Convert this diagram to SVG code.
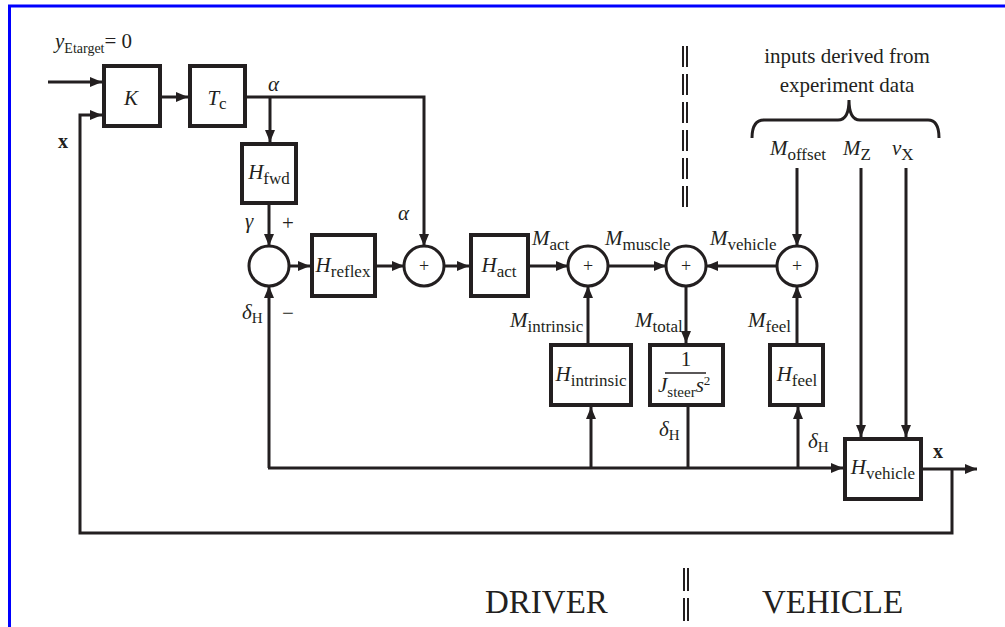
<svg xmlns="http://www.w3.org/2000/svg" width="1005" height="627" viewBox="0 0 1005 627">
<style>
.t{font-family:"Liberation Serif","Times New Roman",serif;fill:#231f20}
.i{font-style:italic;font-size:21px}
.r{font-size:21px}
.sb{font-size:17px;font-style:normal}
.ss{font-size:15px;font-style:normal}
.box{fill:#fff;stroke:#231f20;stroke-width:4}
.sum{fill:#fff;stroke:#231f20;stroke-width:3}
.ln{fill:none;stroke:#231f20;stroke-width:3}
.arr{fill:none;stroke:#231f20;stroke-width:3;marker-end:url(#ah)}
.pl{font-family:"Liberation Serif",serif;font-size:18px;fill:#231f20}
.dash{stroke:#231f20;stroke-width:2;stroke-dasharray:21 7}
</style>
<defs>
<marker id="ah" viewBox="0 0 12 10" refX="12" refY="5" markerWidth="12" markerHeight="10" markerUnits="userSpaceOnUse" orient="auto">
<path d="M0,0 L12,5 L0,10 z" fill="#231f20"/>
</marker>
</defs>
<rect width="1005" height="627" fill="#fff"/>
<path d="M9.5,627 V6 H1005" fill="none" stroke="#0000ff" stroke-width="3"/>

<g id="connectors">
<line class="arr" x1="48" y1="82" x2="102" y2="82"/>
<polyline class="arr" points="952,469 952,533 80,533 80,115 102,115"/>
<line class="arr" x1="162" y1="97" x2="188" y2="97"/>
<polyline class="arr" points="247,97 424,97 424,246"/>
<line class="arr" x1="270" y1="97" x2="270" y2="142"/>
<line class="arr" x1="269" y1="205" x2="269" y2="246"/>
<line class="arr" x1="289" y1="266" x2="310" y2="266"/>
<line class="arr" x1="377" y1="266" x2="404" y2="266"/>
<line class="arr" x1="444" y1="266" x2="469" y2="266"/>
<line class="arr" x1="530" y1="266" x2="568" y2="266"/>
<line class="arr" x1="608" y1="266" x2="666" y2="266"/>
<line class="arr" x1="777" y1="266" x2="706" y2="266"/>
<line class="arr" x1="797" y1="168" x2="797" y2="246"/>
<line class="arr" x1="588" y1="343" x2="588" y2="286"/>
<line class="arr" x1="686" y1="286" x2="686" y2="343"/>
<line class="arr" x1="797" y1="343" x2="797" y2="286"/>
<line class="ln" x1="688" y1="407" x2="688" y2="468"/>
<line class="arr" x1="591" y1="468" x2="591" y2="407"/>
<line class="arr" x1="798" y1="468" x2="798" y2="407"/>
<polyline class="arr" points="269,468 269,286"/>
<line class="arr" x1="268" y1="468" x2="843" y2="468"/>
<line class="arr" x1="861" y1="168" x2="861" y2="437"/>
<line class="arr" x1="906" y1="168" x2="906" y2="437"/>
<line class="arr" x1="923" y1="469" x2="977" y2="469"/>
</g>

<g id="divider">
<line class="dash" x1="683" y1="46" x2="683" y2="208"/>
<line class="dash" x1="687" y1="46" x2="687" y2="208"/>
<line class="dash" x1="684" y1="568" x2="684" y2="627" style="stroke-dasharray:23 7"/>
<line class="dash" x1="688" y1="568" x2="688" y2="627" style="stroke-dasharray:23 7"/>
</g>

<g id="node-K">
<rect class="box" x="104" y="66" width="56" height="60"/>
<text class="t i" x="131" y="105" text-anchor="middle">K</text>
</g>
<g id="node-Tc">
<rect class="box" x="190" y="66" width="55" height="60"/>
<text class="t" x="217" y="105" text-anchor="middle"><tspan class="i">T</tspan><tspan class="sb" dy="4">c</tspan></text>
</g>
<g id="node-Hfwd">
<rect class="box" x="242" y="144" width="54" height="59"/>
<text class="t" x="269" y="179" text-anchor="middle"><tspan class="i">H</tspan><tspan class="sb" dy="5">fwd</tspan></text>
</g>
<g id="sum1">
<circle class="sum" cx="269" cy="266" r="20"/>
</g>
<g id="node-Hreflex">
<rect class="box" x="312" y="235" width="63" height="61"/>
<text class="t" x="343" y="272" text-anchor="middle"><tspan class="i">H</tspan><tspan class="sb" dy="5">reflex</tspan></text>
</g>
<g id="sum2">
<circle class="sum" cx="424" cy="266" r="20"/>
<text class="pl" x="424" y="272" text-anchor="middle">+</text>
</g>
<g id="node-Hact">
<rect class="box" x="471" y="235" width="57" height="61"/>
<text class="t" x="499" y="272" text-anchor="middle"><tspan class="i">H</tspan><tspan class="sb" dy="5">act</tspan></text>
</g>
<g id="sum3">
<circle class="sum" cx="588" cy="266" r="20"/>
<text class="pl" x="588" y="272" text-anchor="middle">+</text>
</g>
<g id="sum4">
<circle class="sum" cx="686" cy="266" r="20"/>
<text class="pl" x="686" y="272" text-anchor="middle">+</text>
</g>
<g id="sum5">
<circle class="sum" cx="797" cy="266" r="20"/>
<text class="pl" x="797" y="272" text-anchor="middle">+</text>
</g>
<g id="node-Hintrinsic">
<rect class="box" x="551" y="345" width="80" height="60"/>
<text class="t" x="591" y="381" text-anchor="middle"><tspan class="i">H</tspan><tspan class="sb" dy="5">intrinsic</tspan></text>
</g>
<g id="node-Jsteer">
<rect class="box" x="650" y="345" width="73" height="60"/>
<text class="t r" x="686" y="366" text-anchor="middle">1</text>
<line x1="665" y1="373" x2="706" y2="373" stroke="#231f20" stroke-width="1.5"/>
<text class="t" x="658" y="392"><tspan class="i">J</tspan><tspan class="ss" dy="5">steer</tspan><tspan class="i" dy="-5">s</tspan><tspan font-size="13" dy="-7">2</tspan></text>
</g>
<g id="node-Hfeel">
<rect class="box" x="770" y="345" width="53" height="60"/>
<text class="t" x="797" y="381" text-anchor="middle"><tspan class="i">H</tspan><tspan class="sb" dy="5">feel</tspan></text>
</g>
<g id="node-Hvehicle">
<rect class="box" x="845" y="439" width="76" height="60"/>
<text class="t" x="883" y="474" text-anchor="middle"><tspan class="i">H</tspan><tspan class="sb" dy="5">vehicle</tspan></text>
</g>

<g id="labels">
<text class="t" x="55" y="48"><tspan class="i">y</tspan><tspan font-size="14" dy="5">Etarget</tspan><tspan class="r" dy="-5">= 0</tspan></text>
<text class="t" x="58" y="148" font-size="20" font-weight="bold">x</text>
<text class="t i" x="268" y="91">α</text>
<text class="t i" x="398" y="220">α</text>
<text class="t i" x="245" y="228">γ</text>
<text class="t r" x="288" y="230" text-anchor="middle">+</text>
<text class="t" x="242" y="319"><tspan class="i">δ</tspan><tspan class="ss" dy="4">H</tspan></text>
<text class="t r" x="288" y="320" text-anchor="middle">−</text>
<text class="t" x="532" y="245"><tspan class="i">M</tspan><tspan class="sb" dy="5">act</tspan></text>
<text class="t" x="605" y="245"><tspan class="i">M</tspan><tspan class="sb" dy="5">muscle</tspan></text>
<text class="t" x="710" y="245"><tspan class="i">M</tspan><tspan class="sb" dy="5">vehicle</tspan></text>
<text class="t" x="510" y="327"><tspan class="i">M</tspan><tspan class="sb" dy="5">intrinsic</tspan></text>
<text class="t" x="635" y="327"><tspan class="i">M</tspan><tspan class="sb" dy="5">total</tspan></text>
<text class="t" x="748" y="327"><tspan class="i">M</tspan><tspan class="sb" dy="5">feel</tspan></text>
<text class="t" x="659" y="436"><tspan class="i">δ</tspan><tspan class="ss" dy="4">H</tspan></text>
<text class="t" x="808" y="448"><tspan class="i">δ</tspan><tspan class="ss" dy="4">H</tspan></text>
<text class="t" x="933" y="458" font-size="20" font-weight="bold">x</text>
<text class="t" x="770" y="155"><tspan class="i">M</tspan><tspan class="sb" dy="5">offset</tspan></text>
<text class="t" x="843" y="155"><tspan class="i">M</tspan><tspan class="sb" dy="5">Z</tspan></text>
<text class="t" x="892" y="155"><tspan class="i">v</tspan><tspan class="sb" dy="5">X</tspan></text>
<text class="t" x="847" y="63" font-size="21" text-anchor="middle">inputs derived from</text>
<text class="t" x="847" y="92" font-size="21" text-anchor="middle">experiment data</text>
<path class="ln" d="M752,138 Q752,120 764,120 H838 Q849,120 849,100 Q849,120 860,120 H928 Q939,120 939,138"/>
<text class="t" x="485" y="613" font-size="33">DRIVER</text>
<text class="t" x="762" y="613" font-size="33">VEHICLE</text>
</g>
</svg>
